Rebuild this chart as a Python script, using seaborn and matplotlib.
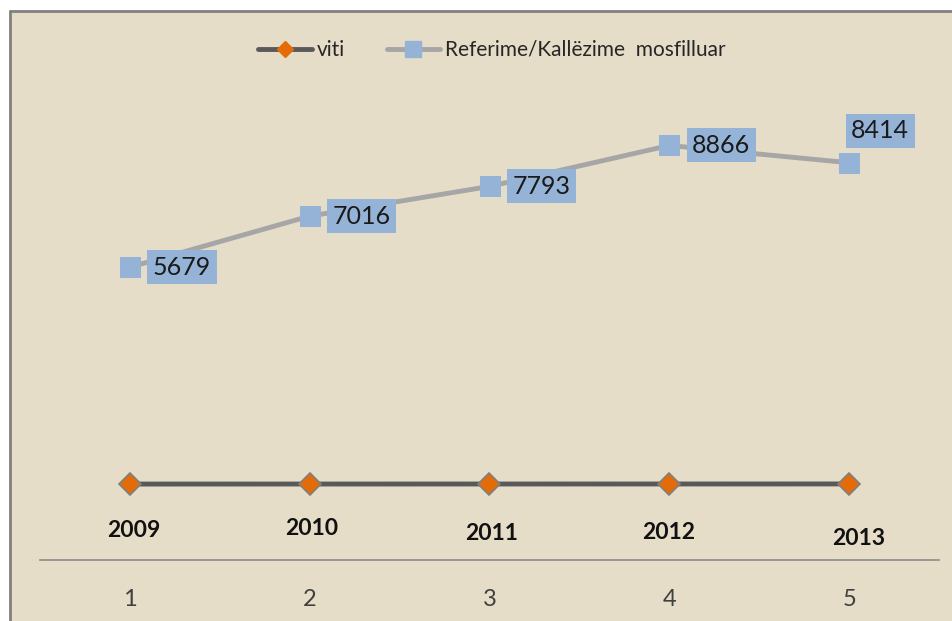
import matplotlib
matplotlib.use("Agg")
import matplotlib.pyplot as plt
import seaborn as sns
import pandas as pd
from matplotlib.patches import Rectangle
from matplotlib.lines import Line2D

# ---- data ----
categories = [1, 2, 3, 4, 5]
years = [2009, 2010, 2011, 2012, 2013]
referime = [5679, 7016, 7793, 8866, 8414]
series_names = ["viti", "Referime/Kallëzime  mosfilluar"]

df = pd.DataFrame({"cat": categories, "viti": years, "ref": referime})

sns.set_theme(style="white")
plt.rcParams["font.family"] = ["Lato", "DejaVu Sans"]

W, H = 953, 621
fig = plt.figure(figsize=(W / 100, H / 100), dpi=100)
fig.patch.set_facecolor("white")

# background frame
bg = Rectangle((10 / W, 0), 1 - 10 / W, 1 - 11 / H, transform=fig.transFigure,
               facecolor="#e6ddc8", edgecolor="none", zorder=-5)
fig.patches.append(bg)
fig.add_artist(Line2D([10 / W, 10 / W], [0, 1 - 11 / H], color="#808080", lw=2,
                      transform=fig.transFigure, zorder=-4))
fig.add_artist(Line2D([10 / W, 1], [1 - 11 / H, 1 - 11 / H], color="#808080", lw=2,
                      transform=fig.transFigure, zorder=-4))

ax = fig.add_axes([40 / W, 61 / H, 899 / W, 530 / H])
ax.set_facecolor("none")
ax.patch.set_alpha(0)
ax2 = ax.twinx()
ax2.set_facecolor("none")
ax2.patch.set_alpha(0)

ref_color = "#a6a6a6"
ref_marker = "#95b3d7"
viti_color = "#595959"
viti_marker = "#e36c09"

sns.lineplot(data=df, x="cat", y="ref", ax=ax, color=ref_color, lw=3.5,
             marker="s", markersize=15, markerfacecolor=ref_marker,
             markeredgecolor=ref_marker, legend=False)
sns.lineplot(data=df, x="cat", y="viti", ax=ax2, color=viti_color, lw=3.5,
             marker="D", markersize=11, markerfacecolor=viti_marker,
             markeredgecolor="#7f7f7f", markeredgewidth=1.2, legend=False)

ax.set_xlim(0.5, 5.5)
ax.set_ylim(-1990, 11890)
frac = (560 - 484) / 530
rng = 20000
ax2.set_ylim(2011 - frac * rng, 2011 - frac * rng + rng)

for a in (ax, ax2):
    a.set_xlabel("")
    a.set_ylabel("")
    a.set_yticks([])
    for s in a.spines.values():
        s.set_visible(False)
ax.spines["bottom"].set_visible(True)
ax.spines["bottom"].set_color("#8c8c8c")
ax.spines["bottom"].set_linewidth(1.2)

ax.set_xticks(categories)
ax.set_xticklabels([str(c) for c in categories], fontsize=17, color="#404040")
ax.tick_params(axis="x", length=0, pad=21)

# data labels
offsets = [(52, 0), (52, 0), (52, 0), (52, 0), (31, 32)]
for c, v, (dx, dy) in zip(categories, referime, offsets):
    ax.annotate(f"{v}", (c, v), xytext=(dx, dy), textcoords="offset pixels",
                ha="center", va="center", fontsize=18, color="#1a1a1a",
                bbox=dict(boxstyle="square,pad=0.22", fc=ref_marker, ec="none"),
                zorder=5)

year_off = [(4, -46), (2, -44), (2, -49), (-1, -49), (10, -55)]
for c, y, (dx, dy) in zip(categories, years, year_off):
    ax2.annotate(str(y), (c, y), xytext=(dx, dy), textcoords="offset pixels",
                 ha="center", va="center", fontsize=16.5, fontweight="bold",
                 color="#111111")

handles = [
    Line2D([], [], color=viti_color, lw=3.5, marker="D", markersize=8,
           markerfacecolor=viti_marker, markeredgecolor=viti_marker),
    Line2D([], [], color=ref_color, lw=3.5, marker="s", markersize=11,
           markerfacecolor=ref_marker, markeredgecolor=ref_marker),
]
fig.legend(handles, series_names, loc="center", bbox_to_anchor=(492 / W, 1 - 50 / H),
           ncol=2, frameon=False, fontsize=15, handlelength=2.55, columnspacing=2.0,
           handletextpad=0.25)

fig.savefig("out.png", dpi=100)
